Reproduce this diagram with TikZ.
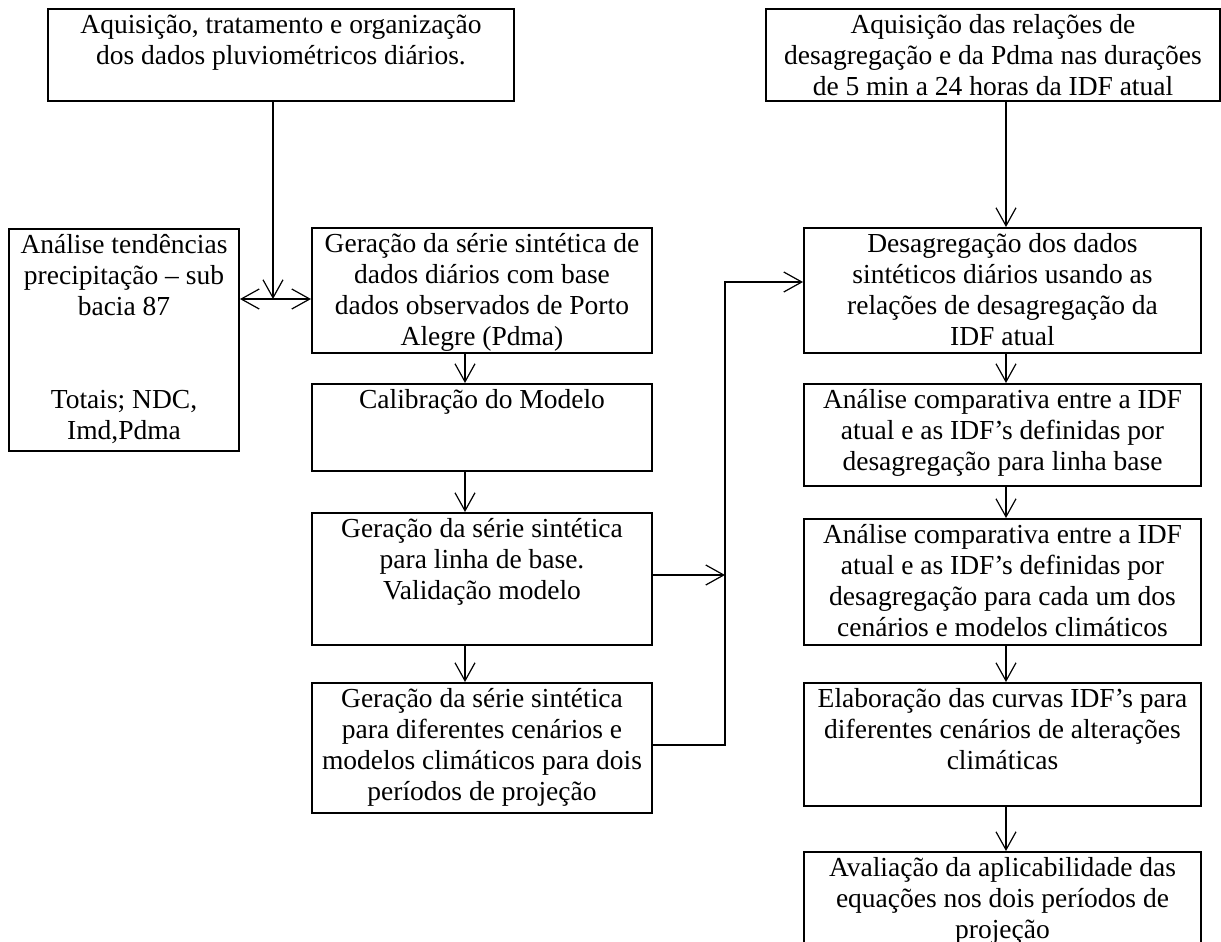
\documentclass[tikz,border=0pt]{standalone}
\usepackage{fontspec}
\setmainfont{Liberation Serif}
\usetikzlibrary{arrows.meta,calc}
\begin{document}
\begin{tikzpicture}[x=0.5pt,y=-0.5pt,
  box/.style={draw, line width=1pt, inner sep=0pt, anchor=north west, minimum width=#1},
  box/.default=170pt,
  txt/.style={align=center, inner sep=0pt, anchor=north, font=\fontsize{13.75}{15.5}\selectfont},
  conn/.style={line width=0.6pt, -{Straight Barb[length=9pt,width=10pt,line width=0.6pt]}},
  conn2/.style={line width=0.6pt, {Straight Barb[length=9pt,width=10pt,line width=0.6pt]}-{Straight Barb[length=9pt,width=10pt,line width=0.6pt]}}
]
\fill[white] (0,0) rectangle (1221,942);
\useasboundingbox (0,0) rectangle (1221,942);

% boxes
\node[box=233pt, minimum height=46pt] (A) at (47,8) {};
\node[box=227pt, minimum height=46pt] (B) at (765,8) {};
\node[box=115pt, minimum height=111pt] (C) at (8,228) {};
\node[box=170pt, minimum height=62.5pt] (D) at (311,227) {};
\node[box=170pt, minimum height=43.5pt] (E) at (311,383) {};
\node[box=170pt, minimum height=66pt] (F) at (311,512) {};
\node[box=170pt, minimum height=65pt] (G) at (311,682) {};
\node[box=198.5pt, minimum height=62.5pt] (H) at (803,227) {};
\node[box=198.5pt, minimum height=51pt] (I) at (803,383) {};
\node[box=198.5pt, minimum height=63pt] (J) at (803,518) {};
\node[box=198.5pt, minimum height=61.5pt] (K) at (803,682) {};
\node[box=198.5pt, minimum height=50pt] (L) at (803,851) {};

% texts
\node[txt] (tA) at ([yshift=-1.65pt]A.north) {\strut Aquisição, tratamento e organização\\dos dados pluviométricos diários.};
\node[txt] (tB) at ([yshift=-1.65pt]B.north) {\strut Aquisição das relações de\\desagregação e da Pdma nas durações\\de 5 min a 24 horas da IDF atual};
\node[txt] (tC) at ([yshift=-1.65pt]C.north) {\strut Análise tendências\\precipitação – sub\\bacia 87\\~\\~\\Totais; NDC,\\Imd,Pdma};
\node[txt] (tD) at ([yshift=-1.65pt]D.north) {\strut Geração da série sintética de\\dados diários com base\\dados observados de Porto\\Alegre (Pdma)};
\node[txt] (tE) at ([yshift=-1.65pt]E.north) {\strut Calibração do Modelo};
\node[txt] (tF) at ([yshift=-1.65pt]F.north) {\strut Geração da série sintética\\para linha de base.\\Validação modelo};
\node[txt] (tG) at ([yshift=-1.65pt]G.north) {\strut Geração da série sintética\\para diferentes cenários e\\modelos climáticos para dois\\períodos de projeção};
\node[txt] (tH) at ([yshift=-1.65pt]H.north) {\strut Desagregação dos dados\\sintéticos diários usando as\\relações de desagregação da\\IDF atual};
\node[txt] (tI) at ([yshift=-1.65pt]I.north) {\strut Análise comparativa entre a IDF\\atual e as IDF’s definidas por\\desagregação para linha base};
\node[txt] (tJ) at ([yshift=-1.65pt]J.north) {\strut Análise comparativa entre a IDF\\atual e as IDF’s definidas por\\desagregação para cada um dos\\cenários e modelos climáticos};
\node[txt] (tK) at ([yshift=-1.65pt]K.north) {\strut Elaboração das curvas IDF’s para\\diferentes cenários de alterações\\climáticas};
\node[txt] (tL) at ([yshift=-1.65pt]L.north) {\strut Avaliação da aplicabilidade das\\equações nos dois períodos de\\projeção};

% helper coordinates
\coordinate (ja) at (273,299);
\coordinate (cx) at (465,0);
\coordinate (rx) at (1006,0);
\coordinate (vf) at (725,575);
\coordinate (vg) at (725,745);
\coordinate (vh) at (725,282);

% connectors
\draw[conn] (ja |- A.south) -- (ja);
\draw[conn2] (C.east |- ja) -- (D.west |- ja);
\draw[conn] (cx |- D.south) -- (cx |- E.north);
\draw[conn] (cx |- E.south) -- (cx |- F.north);
\draw[conn] (cx |- F.south) -- (cx |- G.north);
\draw[conn] (F.east |- vf) -- (vf);
\draw[conn] (G.east |- vg) -- (vg) -- (vh) -- (H.west |- vh);
\draw[conn] (rx |- B.south) -- (rx |- H.north);
\draw[conn] (rx |- H.south) -- (rx |- I.north);
\draw[conn] (rx |- I.south) -- (rx |- J.north);
\draw[conn] (rx |- J.south) -- (rx |- K.north);
\draw[conn] (rx |- K.south) -- (rx |- L.north);
\end{tikzpicture}
\end{document}
